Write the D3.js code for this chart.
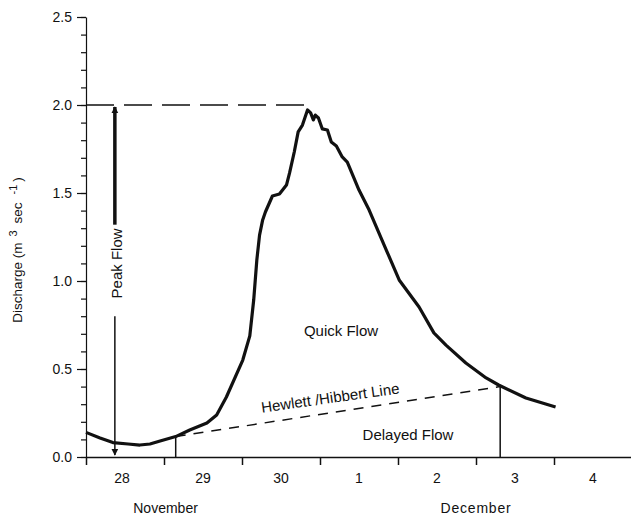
<!DOCTYPE html>
<html>
<head>
<meta charset="utf-8">
<script src="https://cdn.jsdelivr.net/npm/d3@7"></script>
<style>
  body { margin: 0; background: #fff; }
  text { font-family: "Liberation Sans", Arial, sans-serif; fill: #111; }
</style>
</head>
<body>
<div id="chart"></div>
<script>
// time in days since 28 November 00:00
var time = [0, 0.18, 0.345, 0.54, 0.69, 0.82, 0.95, 1.15, 1.33, 1.55, 1.675, 1.80, 2.01, 2.10,
  2.15, 2.19, 2.225, 2.265, 2.30, 2.39, 2.48, 2.57, 2.61, 2.67, 2.72, 2.775, 2.84, 2.88, 2.915,
  2.94, 2.98, 3.03, 3.095, 3.145, 3.21, 3.285, 3.35, 3.50, 3.63, 3.85, 4.015, 4.27, 4.46, 4.615,
  4.87, 5.13, 5.29, 5.64, 6.02];
var discharge = [0.14, 0.108, 0.082, 0.074, 0.068, 0.074, 0.091, 0.116, 0.153, 0.193, 0.239, 0.341, 0.551, 0.688,
  0.892, 1.119, 1.261, 1.347, 1.392, 1.483, 1.494, 1.545, 1.614, 1.733, 1.847, 1.886, 1.972, 1.955, 1.915,
  1.943, 1.926, 1.864, 1.858, 1.790, 1.767, 1.705, 1.676, 1.517, 1.403, 1.176, 1.006, 0.852, 0.705, 0.636,
  0.534, 0.449, 0.409, 0.335, 0.284];

// Hewlett / Hibbert separation line
var sepTime = [1.15, 5.31];
var sepValue = [0.116, 0.40];

var peakValue = 2.0, peakTime = 2.84, arrowTime = 0.37;

var dayLabels = ["28", "29", "30", "1", "2", "3", "4"];
var monthNames = ["November", "December"];
var monthTime = [1.02, 5.0];
var yMajor = [0, 0.5, 1.0, 1.5, 2.0, 2.5];

var margin = { top: 17, right: 0, bottom: 60, left: 86 },
    width = 631 - margin.left - margin.right,
    height = 517 - margin.top - margin.bottom;

var root = d3.select("#chart").append("svg")
    .attr("width", 631)
    .attr("height", 517);

var defs = root.append("defs");
defs.append("marker")
    .attr("id", "head")
    .attr("viewBox", "0 0 10 10")
    .attr("refX", 9).attr("refY", 5)
    .attr("markerWidth", 7).attr("markerHeight", 10)
    .attr("markerUnits", "userSpaceOnUse")
    .attr("orient", "auto")
  .append("path")
    .attr("d", "M0,0 L10,5 L0,10 Z")
    .attr("fill", "#111");

var svg = root.append("g")
    .attr("transform", "translate(" + margin.left + "," + margin.top + ")");

var x = d3.scaleLinear().domain([0, 7]).range([0, 546]);
var y = d3.scaleLinear().domain([0, 2.5]).range([height, 0]);

// Y axis, minor ticks then major ticks
svg.append("g")
    .call(d3.axisLeft(y).tickValues(d3.range(0, 2.51, 0.1)).tickSize(5).tickFormat(""))
    .call(g => g.select(".domain").remove());
svg.append("g")
    .call(d3.axisLeft(y).tickValues(yMajor).tickSize(9).tickSizeOuter(0).tickPadding(5)
      .tickFormat(d3.format(".1f")))
    .call(g => g.selectAll("text").style("font-size", "14px").attr("font-family", null));
svg.selectAll(".tick line, .domain").attr("stroke", "#111").attr("stroke-width", 1.2);

// X axis
svg.append("g")
    .attr("transform", "translate(0," + height + ")")
    .call(d3.axisBottom(x).tickValues(d3.range(0, 7)).tickSize(8).tickSizeOuter(0).tickFormat(""))
    .call(g => g.selectAll("line, path").attr("stroke", "#111").attr("stroke-width", 1.5));

svg.append("g").selectAll("text")
  .data(dayLabels)
  .enter().append("text")
    .attr("x", (d, i) => x(i + 0.5) - (i == 0 ? 3 : 0))
    .attr("y", height + 26)
    .attr("text-anchor", "middle")
    .style("font-size", "14px")
    .text(d => d);

svg.append("g").selectAll("text")
  .data(monthNames)
  .enter().append("text")
    .attr("x", (d, i) => x(monthTime[i]))
    .attr("y", height + 56)
    .attr("text-anchor", "middle")
    .style("font-size", "14px")
    .style("letter-spacing", (d, i) => i == 1 ? "0.8px" : "0px")
    .text(d => d);

// y axis title
var yt = root.append("text")
    .attr("transform", "translate(22,250) rotate(-90)")
    .attr("text-anchor", "middle")
    .style("font-size", "13.5px");
yt.append("tspan").text("Discharge (m");
yt.append("tspan").attr("dx", 6).attr("dy", -5).style("font-size", "11px").text("3");
yt.append("tspan").attr("dx", 7).attr("dy", 5).text("sec");
yt.append("tspan").attr("dx", 8).attr("dy", -5).style("font-size", "11px").text("-1");
yt.append("tspan").attr("dx", 3).attr("dy", 5).text(")");

// peak level dashed line
svg.append("line")
    .attr("x1", x(0)).attr("x2", x(peakTime))
    .attr("y1", y(peakValue)).attr("y2", y(peakValue))
    .attr("stroke", "#111").attr("stroke-width", 1.5)
    .attr("stroke-dasharray", "28,10");

// peak flow arrow
svg.append("line")
    .attr("x1", x(arrowTime)).attr("x2", x(arrowTime))
    .attr("y1", y(1.32)).attr("y2", y(peakValue) + 2)
    .attr("stroke", "#111").attr("stroke-width", 3.5)
    .attr("marker-end", "url(#head)");
svg.append("line")
    .attr("x1", x(arrowTime)).attr("x2", x(arrowTime))
    .attr("y1", y(0.8)).attr("y2", y(0) - 2)
    .attr("stroke", "#111").attr("stroke-width", 1.5)
    .attr("marker-end", "url(#head)");
svg.append("text")
    .attr("transform", "translate(" + (x(arrowTime) + 7) + "," + y(1.1) + ") rotate(-90)")
    .attr("text-anchor", "middle")
    .style("font-size", "15px")
    .text("Peak Flow");

// separation verticals and dashed line
svg.append("g").selectAll("line")
  .data(sepTime)
  .enter().append("line")
    .attr("x1", d => x(d)).attr("x2", d => x(d))
    .attr("y1", y(0)).attr("y2", (d, i) => y(sepValue[i]))
    .attr("stroke", "#111").attr("stroke-width", 1.5);
svg.append("line")
    .attr("x1", x(sepTime[0])).attr("x2", x(sepTime[1]))
    .attr("y1", y(sepValue[0])).attr("y2", y(sepValue[1]))
    .attr("stroke", "#111").attr("stroke-width", 1.5)
    .attr("stroke-dasharray", "10,8");

// hydrograph
var line = d3.line()
    .x((d, i) => x(time[i]))
    .y(d => y(d));
svg.append("path")
    .datum(discharge)
    .attr("d", line)
    .attr("fill", "none")
    .attr("stroke", "#111")
    .attr("stroke-width", 3.2)
    .attr("stroke-linejoin", "round");

// area labels
svg.append("text")
    .attr("x", 341 - margin.left).attr("y", 336 - margin.top)
    .attr("text-anchor", "middle").style("font-size", "15px")
    .text("Quick Flow");
svg.append("text")
    .attr("x", 408 - margin.left).attr("y", 440 - margin.top)
    .attr("text-anchor", "middle").style("font-size", "15px")
    .text("Delayed Flow");
svg.append("text")
    .attr("transform", "translate(" + (331 - margin.left) + "," + (403 - margin.top) + ") rotate(-8)")
    .attr("text-anchor", "middle").style("font-size", "15px")
    .text("Hewlett /Hibbert Line");
</script>
</body>
</html>
